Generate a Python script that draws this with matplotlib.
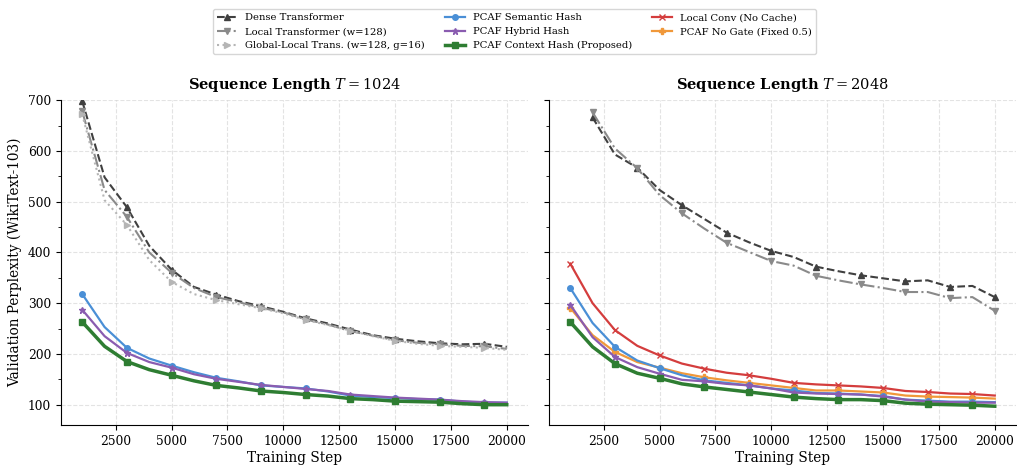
import numpy as np
import matplotlib
matplotlib.use("Agg")
import matplotlib.pyplot as plt

# Trainingsschritte
steps = list(range(1000, 20001, 1000))
steps_from_2k = list(range(2000, 20001, 1000))

# T = 1024
dense_1024 = [698, 548, 489, 413, 366, 332, 317, 304, 294, 283, 270, 260, 248, 237, 230, 225, 221, 219, 220, 214]
local_1024 = [678, 523, 470, 400, 360, 330, 312, 302, 291, 282, 268, 258, 245, 236, 227, 222, 219, 216, 215, 210]
global_local_1024 = [672, 503, 454, 385, 342, 318, 306, 298, 290, 280, 267, 257, 246, 235, 226, 220, 216, 214, 212, 208]
semantic_1024 = [318, 253, 212, 191, 177, 164, 153, 146, 138, 135, 132, 126, 118, 115, 113, 111, 110, 106, 104, 104]
hybrid_1024 = [287, 235, 202, 184, 173, 160, 151, 145, 139, 135, 131, 127, 120, 117, 114, 112, 110, 107, 105, 104]
context_1024 = [263, 215, 185, 169, 158, 147, 138, 133, 127, 124, 120, 117, 112, 110, 107, 106, 105, 102, 100, 100]

# T = 2048
dense_2048 = [666, 593, 567, 523, 493, 466, 439, 420, 403, 391, 372, 363, 355, 349, 343, 345, 332, 334, 312]
local_2048 = [676, 605, 566, 513, 477, 447, 419, 401, 383, 374, 354, 345, 337, 330, 322, 322, 310, 312, 285]
conv_2048 = [378, 300, 247, 216, 197, 181, 171, 163, 158, 151, 143, 140, 138, 136, 133, 127, 125, 122, 121, 118]
nogate_2048 = [291, 237, 204, 184, 173, 162, 154, 148, 143, 138, 133, 128, 128, 126, 124, 118, 116, 115, 114, 112]
semantic_2048 = [330, 261, 214, 187, 172, 158, 148, 143, 138, 132, 128, 123, 122, 120, 117, 110, 108, 106, 106, 105]
hybrid_2048 = [297, 233, 194, 174, 161, 149, 146, 141, 138, 132, 124, 122, 121, 120, 116, 110, 106, 105, 104, 104]
context_2048 = [263, 214, 181, 162, 152, 141, 135, 130, 125, 120, 115, 112, 110, 110, 108, 103, 101, 100, 99, 97]

plt.rcParams['font.family'] = 'DejaVu Serif'
plt.rcParams['mathtext.fontset'] = 'dejavuserif'

stil = {
    'dense': dict(color='#404040', ls='--', marker='^', lw=1.5, ms=5, label='Dense Transformer'),
    'local': dict(color='#8a8a8a', ls='-.', marker='v', lw=1.5, ms=5, label='Local Transformer (w=128)'),
    'glob': dict(color='#b5b5b5', ls=':', marker='>', lw=1.5, ms=5, label='Global-Local Trans. (w=128, g=16)'),
    'sem': dict(color='#4a8fd6', ls='-', marker='o', lw=1.6, ms=4, label='PCAF Semantic Hash'),
    'hyb': dict(color='#8a5cb0', ls='-', marker='*', lw=1.6, ms=4.5, label='PCAF Hybrid Hash'),
    'ctx': dict(color='#2e7d32', ls='-', marker='s', lw=2.5, ms=5, label='PCAF Context Hash (Proposed)'),
    'conv': dict(color='#d43d3d', ls='-', marker='x', lw=1.6, ms=4, label='Local Conv (No Cache)'),
    'nog': dict(color='#f0983a', ls='-', marker='P', lw=1.6, ms=4, label='PCAF No Gate (Fixed 0.5)'),
}

fig, (ax1, ax2) = plt.subplots(1, 2, figsize=(10.17, 4.66), dpi=100, sharey=True)
fig.subplots_adjust(left=0.060, right=0.999, top=0.785, bottom=0.088, wspace=0.045)

ax1.plot(steps, dense_1024, markevery=2, **stil['dense'])
ax1.plot(steps, local_1024, markevery=2, **stil['local'])
ax1.plot(steps, global_local_1024, markevery=2, **stil['glob'])
ax1.plot(steps, semantic_1024, markevery=2, **stil['sem'])
ax1.plot(steps, hybrid_1024, markevery=2, **stil['hyb'])
ax1.plot(steps, context_1024, markevery=2, **stil['ctx'])

ax2.plot(steps_from_2k, dense_2048, markevery=2, **stil['dense'])
ax2.plot(steps_from_2k, local_2048, markevery=2, **stil['local'])
ax2.plot(steps, conv_2048, markevery=2, **stil['conv'])
ax2.plot(steps, nogate_2048, markevery=2, **stil['nog'])
ax2.plot(steps, semantic_2048, markevery=2, **stil['sem'])
ax2.plot(steps, hybrid_2048, markevery=2, **stil['hyb'])
ax2.plot(steps, context_2048, markevery=2, **stil['ctx'])

for ax, titel in [(ax1, 'Sequence Length $T = 1024$'), (ax2, 'Sequence Length $T = 2048$')]:
    ax.set_title(titel, fontsize=10.5, fontweight='bold', pad=8)
    ax.set_xlabel('Training Step', fontsize=9.8, labelpad=2.5)
    ax.set_xticks([2500, 5000, 7500, 10000, 12500, 15000, 17500, 20000])
    ax.set_yticks([100, 200, 300, 400, 500, 600, 700])
    ax.set_yticks(np.arange(100, 701, 50), minor=True)
    ax.tick_params(labelsize=8.8)
    ax.grid(True, ls='--', alpha=0.35, lw=0.8)
    ax.spines['top'].set_visible(False)
    ax.spines['right'].set_visible(False)

ax1.set_ylim(60, 700)
ax1.set_ylabel('Validation Perplexity (WikiText-103)', fontsize=9.8)

handles = [plt.Line2D([], [], **stil[k]) for k in ['dense', 'local', 'glob', 'sem', 'hyb', 'ctx', 'conv', 'nog']]
fig.legend(handles=handles, loc='upper center', bbox_to_anchor=(0.506, 0.991), ncol=3,
           fontsize=7.2, frameon=True, edgecolor='#cccccc', handlelength=2)

plt.savefig('out.png', dpi=100)
